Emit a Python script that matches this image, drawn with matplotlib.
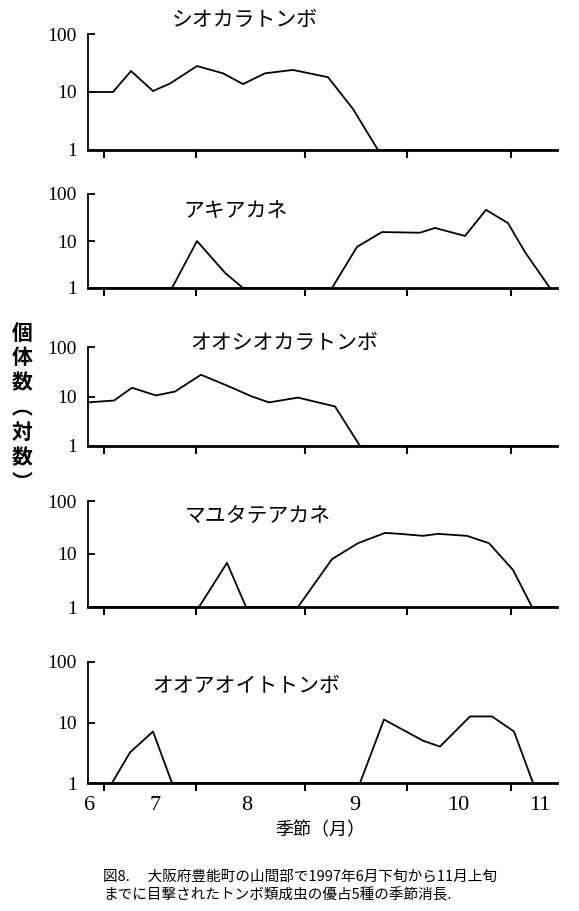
import matplotlib
matplotlib.use("Agg")
import matplotlib.pyplot as plt
from matplotlib.transforms import blended_transform_factory

plt.rcParams['font.family'] = ['Noto Sans CJK JP', 'DejaVu Sans']

W, H = 579, 911
names = ["シオカラトンボ", "アキアカネ", "オオシオカラトンボ", "マユタテアカネ", "オオアオイトトンボ"]
# x positions on the season axis (common scale), values = individuals
x1 = [88, 113, 131, 153, 170, 197, 223, 243, 265, 293, 328, 353, 378, 553]
v1 = [10, 10, 23, 10.4, 14, 28, 21, 13.7, 21, 24, 18, 5.1, 1, 1]
x2 = [88, 172, 197, 225, 243, 332, 357, 382, 420, 435, 465, 486, 508, 525, 550]
v2 = [1, 1, 10, 2.1, 1, 1, 7.5, 15.5, 15, 19, 12.8, 46, 24, 5.8, 1]
x3 = [88, 114, 132, 156, 175, 201, 227, 252, 269, 298, 335, 360, 553]
v3 = [7.6, 8.3, 15, 10.5, 12.6, 27.5, 16.6, 10, 7.6, 9.5, 6.3, 1, 1]
x4 = [88, 199, 227, 246, 298, 332, 358, 385, 400, 423, 438, 467, 489, 513, 532, 555]
v4 = [1, 1, 6.8, 1, 1, 8, 16, 25, 24, 22, 24, 22, 16, 5, 1, 1]
x5 = [112, 130, 153, 172, 360, 384, 423, 440, 470, 492, 514, 533]
v5 = [1, 3.2, 7.1, 1, 1, 11.2, 5, 4, 12.6, 12.6, 7.1, 1]
xs = [x1, x2, x3, x4, x5]
vs = [v1, v2, v3, v4, v5]
tick_x = [104, 196, 305, 407, 511]
month_labels = ["6", "7", "8", "9", "10", "11"]
month_x = [90, 155, 247, 355, 458, 540]
ytick_vals = [1, 10, 100]
ytick_labels = ["1", "10", "100"]

panels = [(34, 150), (194, 288), (347, 446), (501, 607), (662, 783)]
title_pos = [(245, 20), (236, 211), (284, 343), (258, 517), (246, 686)]
left, right = 88, 557

fig = plt.figure(figsize=(W/100, H/100), dpi=100)
for i, (top, bot) in enumerate(panels):
    ax = fig.add_axes([left/W, 1-bot/H, (right-left)/W, (bot-top)/H])
    ax.plot(xs[i], vs[i], color='black', lw=1.3, clip_on=False)
    ax.set_yscale('log')
    ax.set_ylim(1, 100)
    ax.set_xlim(left, right)
    for s in ['top', 'right']:
        ax.spines[s].set_visible(False)
    ax.spines['left'].set_linewidth(1.3)
    ax.spines['bottom'].set_linewidth(2)
    ax.set_yticks(ytick_vals)
    ax.set_yticklabels(ytick_labels, fontsize=14, family=['Liberation Serif'])
    ax.yaxis.set_minor_locator(matplotlib.ticker.NullLocator())
    ax.tick_params(axis='y', direction='in', length=5, width=1.3, pad=8)
    ax.set_xticks(tick_x)
    ax.set_xticklabels([])
    ax.tick_params(axis='x', direction='out', length=6, width=1.5)
    ax.patch.set_visible(False)
    fig.text(title_pos[i][0]/W, 1-title_pos[i][1]/H, names[i], fontsize=15,
             ha='center', va='center')
    if i == 4:
        tr = blended_transform_factory(ax.transData, ax.transAxes)
        for lab, mx in zip(month_labels, month_x):
            ax.text(mx, -0.11, lab, transform=tr, ha='center', va='top',
                    fontsize=16, family=['Liberation Serif'])

fig.text(320/W, 1-830/H, "季節（月）", fontsize=13, ha='center', va='center')
for ch, yy in zip("個体数", [333, 358, 383]):
    fig.text(22/W, 1-yy/H, ch, fontsize=15, ha='center', va='center', weight='bold')
for ch, yy in zip("︵対数︶", [408, 433, 458, 483]):
    fig.text(22/W, 1-yy/H, ch, fontsize=15, ha='center', va='center', weight='bold')
fig.text(103/W, 1-877/H, "図8.　 大阪府豊能町の山間部で1997年6月下旬から11月上旬",
         fontsize=10.5, ha='left', va='center')
fig.text(103/W, 1-895/H, "までに目撃されたトンボ類成虫の優占5種の季節消長.",
         fontsize=10.5, ha='left', va='center')
fig.savefig("out.png", dpi=100)
